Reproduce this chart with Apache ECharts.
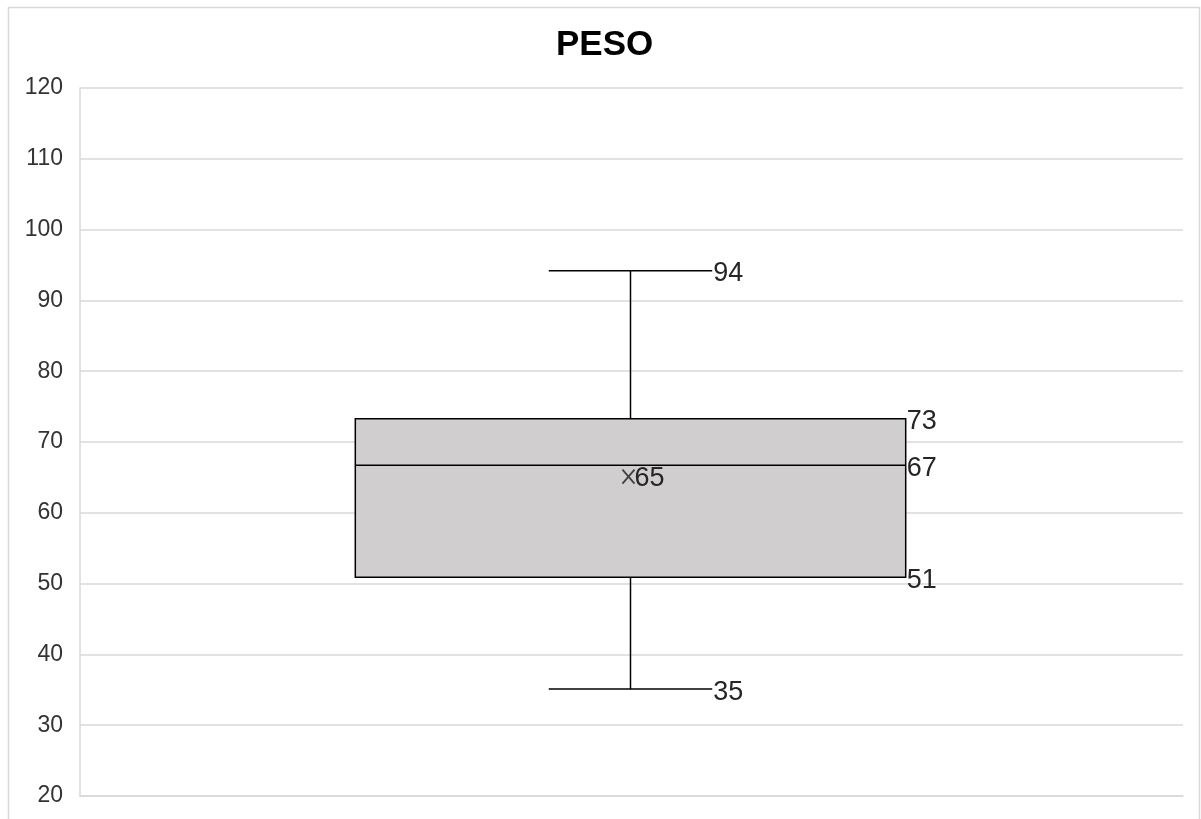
<!DOCTYPE html>
<html>
<head>
<meta charset="utf-8">
<script src="https://cdn.jsdelivr.net/npm/echarts@6/dist/echarts.min.js"></script>
<style>
html,body{margin:0;padding:0;background:#fff;}
#chart{width:1201px;height:819px;}
</style>
</head>
<body>
<div id="chart"></div>
<script>
const categories = ['PESO'];
const minVals = [35.1];
const q1Vals = [50.9];
const medianVals = [66.7];
const q3Vals = [73.3];
const maxVals = [94.2];
const meanVals = [65.1];
const yTicks = {min: 20, max: 120, interval: 10};

const data = categories.map((c, i) => [i, minVals[i], q1Vals[i], medianVals[i], q3Vals[i], maxVals[i], meanVals[i]]);

const chart = echarts.init(document.getElementById('chart'));
const labelFont = '27px "Liberation Sans", Arial, sans-serif';
const labelColor = '#262626';

function renderItem(params, api) {
  const idx = api.value(0);
  const vMin = api.value(1), vQ1 = api.value(2), vMed = api.value(3), vQ3 = api.value(4), vMax = api.value(5), vMean = api.value(6);
  const band = api.size([1, 0])[0];
  const cx = api.coord([idx, vMin])[0] - 1;
  const bw = band * 0.499;
  const cw = bw * 0.297;
  const y = v => api.coord([idx, v])[1];
  const x0 = cx - bw / 2, x1 = cx + bw / 2;
  const lineStyle = {stroke: '#000', lineWidth: 1.5, fill: null};
  const children = [];
  children.push({type: 'line', shape: {x1: cx, y1: y(vMax), x2: cx, y2: y(vQ3)}, style: lineStyle});
  children.push({type: 'line', shape: {x1: cx, y1: y(vQ1), x2: cx, y2: y(vMin)}, style: lineStyle});
  children.push({type: 'line', shape: {x1: cx - cw / 2, y1: y(vMax), x2: cx + cw / 2, y2: y(vMax)}, style: lineStyle});
  children.push({type: 'line', shape: {x1: cx - cw / 2, y1: y(vMin), x2: cx + cw / 2, y2: y(vMin)}, style: lineStyle});
  children.push({type: 'rect', shape: {x: x0, y: y(vQ3), width: bw, height: y(vQ1) - y(vQ3)}, style: {fill: '#d0cece', stroke: '#000', lineWidth: 1.5}});
  children.push({type: 'line', shape: {x1: x0, y1: y(vMed), x2: x1, y2: y(vMed)}, style: lineStyle});
  const my = y(vMean), mx = cx - 2, msx = 6, msy = 7;
  const mStyle = {stroke: '#404040', lineWidth: 1.8, fill: null};
  children.push({type: 'line', shape: {x1: mx - msx, y1: my - msy, x2: mx + msx, y2: my + msy}, style: mStyle});
  children.push({type: 'line', shape: {x1: mx - msx, y1: my + msy, x2: mx + msx, y2: my - msy}, style: mStyle});
  const txt = (t, tx, ty) => ({type: 'text', style: {text: t, x: tx, y: ty, font: labelFont, fill: labelColor, align: 'left', verticalAlign: 'middle'}});
  children.push(txt(String(Math.round(vMean)), mx + msx + 0, my + 2));
  children.push(txt(String(Math.round(vMax)), cx + cw / 2 + 1, y(vMax) + 3));
  children.push(txt(String(Math.round(vMin)), cx + cw / 2 + 1, y(vMin) + 3));
  children.push(txt(String(Math.round(vQ3)), x1 + 1, y(vQ3) + 3));
  children.push(txt(String(Math.round(vMed)), x1 + 1, y(vMed) + 3));
  children.push(txt(String(Math.round(vQ1)), x1 + 1, y(vQ1) + 3));
  return {type: 'group', children};
}

chart.setOption({
  animation: false,
  backgroundColor: '#fff',
  title: {
    text: 'PESO',
    left: 551, top: 23,
    textStyle: {fontFamily: '"Liberation Sans", Arial, sans-serif', fontSize: 35, fontWeight: 'bold', color: '#000'}
  },
  graphic: [{
    type: 'rect', silent: true, z: -1,
    shape: {x: 8.5, y: 7.5, width: 1191, height: 830},
    style: {fill: null, stroke: '#d9d9d9', lineWidth: 1.5}
  }],
  grid: {left: 80, right: 18, top: 88, bottom: 23, containLabel: false},
  xAxis: {
    type: 'category', data: categories,
    axisLine: {show: true, lineStyle: {color: '#d9d9d9', width: 1.5}},
    axisTick: {show: false}, axisLabel: {show: false}, splitLine: {show: false}
  },
  yAxis: {
    type: 'value', min: yTicks.min, max: yTicks.max, interval: yTicks.interval,
    axisLine: {show: true, lineStyle: {color: '#d9d9d9', width: 1.5}},
    axisTick: {show: false},
    axisLabel: {margin: 17, fontSize: 23, color: '#333', fontFamily: '"Liberation Sans", Arial, sans-serif'},
    splitLine: {show: true, lineStyle: {color: '#d9d9d9', width: 1.5}}
  },
  series: [{
    type: 'custom',
    renderItem: renderItem,
    encode: {x: 0, y: [1, 2, 3, 4, 5, 6]},
    data: data
  }]
});
</script>
</body>
</html>
